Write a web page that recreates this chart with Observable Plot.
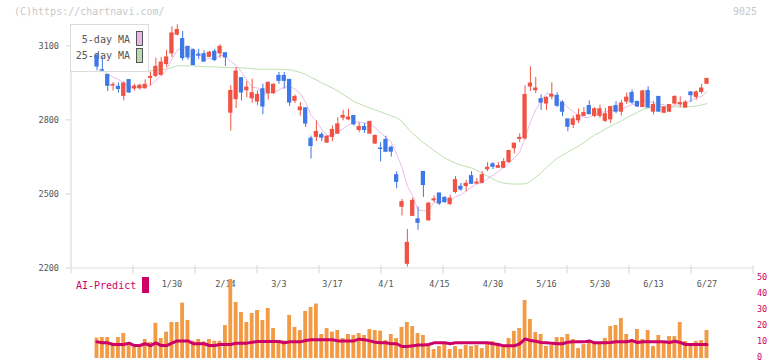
<!DOCTYPE html>
<html><head><meta charset="utf-8">
<script src="https://cdn.jsdelivr.net/npm/d3@7"></script>
<script src="https://cdn.jsdelivr.net/npm/@observablehq/plot@0.6"></script>
<style>
html,body{margin:0;padding:0;background:#fff;}
#wrap{position:relative;width:772px;height:361px;overflow:hidden;font-family:"DejaVu Sans Mono",monospace;}
#wrap > *{position:absolute;}
#wrap svg{left:0;top:0;}
.t10{font-size:10px;line-height:10px;white-space:nowrap;}
</style></head><body><div id="wrap"></div>
<script>
const dates = ["1/9","1/10","1/14","1/15","1/16","1/17","1/20","1/21","1/22","1/23","1/24","1/27","1/28","1/29","1/30","1/31",
"2/3","2/4","2/5","2/6","2/7","2/10","2/12","2/13","2/14","2/17","2/18","2/19","2/20","2/21","2/25","2/26","2/27","2/28",
"3/3","3/4","3/5","3/6","3/7","3/10","3/11","3/12","3/13","3/14","3/17","3/18","3/19","3/21","3/24","3/25","3/26","3/27","3/28","3/31",
"4/1","4/2","4/3","4/4","4/7","4/8","4/9","4/10","4/11","4/14","4/15","4/16","4/17","4/18","4/21","4/22","4/23","4/24","4/25","4/28","4/30",
"5/1","5/2","5/7","5/8","5/9","5/12","5/13","5/14","5/15","5/16","5/19","5/20","5/21","5/22","5/23","5/26","5/27","5/28","5/29","5/30",
"6/2","6/3","6/4","6/5","6/6","6/9","6/10","6/11","6/12","6/13","6/16","6/17","6/18","6/19","6/20","6/23","6/24","6/25","6/26","6/27"];
const open = [3059,3001,2982,2939,2934,2897,2961,2927,2928,2928,
2970,2978,2982,3026,3069,3145,3127,3096,3082,3064,
3066,3055,3076,3069,3070,2829,2884,2969,2920,2887,
2874,2924,2908,2908,2978,2978,2962,2877,2839,2847,
2724,2731,2739,2708,2731,2744,2809,2802,2816,2759,
2771,2744,2704,2684,2719,2687,2576,2448,2217,2411,
2397,2589,2393,2474,2502,2484,2459,2508,2529,2532,
2572,2542,2545,2600,2620,2606,2606,2629,2685,2723,
2725,2935,2920,2884,2866,2894,2897,2870,2802,2780,
2798,2816,2856,2816,2816,2796,2802,2856,2833,2874,
2909,2873,2852,2917,2833,2893,2829,2833,2866,2864,
2850,2911,2893,2913,2946];
const high = [3066,3055,2985,2951,2950,2954,2961,2944,2945,2962,
2994,3050,3053,3082,3177,3185,3158,3096,3086,3085,
3080,3078,3086,3104,3070,2938,3012,2969,2956,2965,
2917,2944,2954,2946,2992,2992,2962,2901,2870,2847,
2734,2796,2748,2735,2775,2809,2839,2843,2816,2788,
2785,2792,2739,2708,2734,2694,2590,2478,2356,2482,
2447,2589,2464,2492,2502,2489,2495,2570,2543,2555,
2590,2563,2590,2627,2627,2627,2643,2677,2704,2744,
2938,3015,2972,2901,2893,2950,2910,2877,2802,2815,
2845,2850,2877,2850,2860,2847,2852,2874,2879,2909,
2921,2875,2920,2934,2874,2893,2852,2862,2897,2893,
2877,2915,2917,2944,2966];
const low = [2999,2998,2915,2917,2908,2877,2907,2917,2920,2924,
2938,2971,2978,3012,3053,3140,3039,3042,3019,3045,
3033,3052,3036,3050,3016,2755,2846,2877,2889,2867,
2857,2821,2881,2903,2944,2924,2854,2866,2815,2769,
2642,2712,2712,2704,2712,2741,2796,2796,2775,2748,
2745,2744,2700,2630,2667,2649,2521,2411,2204,2411,
2353,2486,2390,2465,2454,2461,2453,2500,2511,2509,
2538,2538,2542,2590,2599,2603,2603,2624,2663,2708,
2718,2915,2906,2838,2838,2881,2850,2813,2752,2765,
2785,2813,2820,2809,2806,2789,2785,2825,2816,2863,
2863,2850,2850,2846,2820,2833,2825,2830,2860,2850,
2847,2870,2880,2904,2946];
const close = [3016,2999,2938,2941,2925,2947,2911,2935,2938,2942,
2974,3015,3032,3053,3150,3164,3050,3053,3022,3060,
3036,3072,3042,3096,3053,2917,2996,2911,2931,2908,
2901,2854,2950,2942,2958,2958,2870,2893,2850,2785,
2694,2751,2728,2732,2759,2782,2816,2809,2782,2771,
2759,2792,2735,2682,2671,2671,2549,2467,2302,2472,
2383,2536,2461,2478,2461,2467,2481,2556,2518,2541,
2541,2546,2576,2606,2610,2613,2629,2674,2704,2727,
2901,2947,2927,2870,2889,2901,2857,2833,2772,2802,
2818,2828,2823,2843,2843,2823,2852,2833,2866,2890,
2870,2854,2915,2850,2860,2833,2850,2860,2893,2868,
2870,2900,2911,2927,2966];
const ma25 = [3003,3003,3003,3003,3003,3003,3003,3003,3003,3002,
2999,3001,3003,3007,3011,3019,3019,3019,3019,3017,
3015,3015,3015,3013,3012,3012,3011,3011,3009,3007,
3005,3005,3005,3005,3005,3003,3003,2998,2992,2984,
2972,2962,2950,2940,2929,2917,2903,2889,2875,2865,
2856,2848,2840,2832,2824,2816,2808,2795,2767,2745,
2726,2708,2692,2676,2660,2645,2635,2625,2617,2611,
2605,2595,2584,2572,2560,2550,2544,2541,2540,2540,
2541,2550,2568,2586,2607,2626,2645,2657,2670,2682,
2694,2708,2724,2739,2749,2763,2775,2785,2796,2808,
2820,2830,2842,2848,2852,2854,2854,2852,2852,2852,
2852,2854,2856,2860,2866];
const volume = [12.7,13.1,13.1,9.6,13.1,15.6,10,7.1,7.9,11.9,
10,22,12.5,16.5,22.5,22.5,34.6,23.8,10.8,11.9,
10.4,11.9,10.8,10.8,20.6,49.4,35,28.7,22.5,28.1,
30,23.7,31.2,18.7,11,11,26.9,19.4,17.5,29.4,
31.9,34,15,18.7,16.5,17.5,12.5,15,14.4,15.6,
14.4,18.1,17.5,17.1,11.2,15,12.5,19.4,22.5,20,
15.6,14.4,8.1,5.6,7.5,9.4,5.6,7.5,5.6,8.1,
7.5,8.1,6.2,8.7,10.6,8.1,6.9,12.5,16.9,18.7,
36.2,24.4,16.2,15,7.5,8.1,13.1,13.1,15,11.9,
6.2,8.7,11.2,10.6,10,12.5,20,20.6,25,15,
10,18.1,11.9,17.5,7.5,14.4,10,13.7,13.7,22.5,
10.6,8.1,10.6,11.2,17.5];
const aiPredict = [10.4,9.8,9.8,8.75,8.75,8.75,9.6,8.1,8.1,9.2,
8.1,9.8,8.1,8.1,9.6,11,11,11,9.2,9.2,
9.2,8.1,8.1,8.75,8.75,8.75,9.6,9.6,9.6,10.2,
10.6,10.6,10.6,10.6,10.6,9.8,10.4,10.4,10.4,11.2,
11.7,11.7,11.7,11.7,11.7,11,11,11,11,12.1,
11.7,11,10.2,9.8,9.8,9.2,9.2,7.5,7.5,7.9,
8.5,8.5,8.75,9.8,9.8,9.8,9.2,9.8,9.8,9.8,
9.8,9.8,9.8,9.8,9.2,8.75,7.9,7.9,7.9,9.2,
12.3,11.2,10.8,10,9.8,9.6,9.2,9.2,10.2,10.4,
10.4,10.4,11,9.8,9.8,9.8,10,10.4,10.4,10.4,
11.2,10,10.4,10.4,10.4,10.4,10.4,10,10.8,10,
8.75,8.75,8.75,8.75,8.75];
const dateLabels = ["1/30","2/14","3/3","3/17","4/1","4/15","4/30","5/16","5/30","6/13","6/27"];
const priceTicks = [2200,2500,2800,3100];
const volumeTicks = [0,10,20,30,40,50];

const RED = "#f05344", BLUE = "#3e77e6", ORANGE = "#f29a44", MAG = "#cc0066";
const MA5C = "#ebbdeb", MA25C = "#bde0b0", GRID = "#dddddd", TXT = "#555555";

const rows = dates.map((d, i) => ({i, date: d, o: open[i], h: high[i], l: low[i], c: close[i],
  up: close[i] >= open[i], ma25: ma25[i], v: volume[i], ai: aiPredict[i]}));

const X0 = -4.86, X1 = 122.6;
const xScale = {domain: [X0, X1], range: [70.5, 752.5]};
const pxPerIdx = (752.5 - 70.5) / (X1 - X0);
const yPrice = {domain: [2200, 3100], range: [267.5, 45.3]};
const yenPerPx = 900 / (267.5 - 45.3);
const yVol = {domain: [0, 50], range: [358, 278]};
const xTicks = d3.range(12).map(k => X0 + k * 62 / pxPerIdx);
const FONT = '"DejaVu Sans Mono", monospace';

function make(y, marks) {
  const svg = Plot.plot({
    width: 772, height: 361, margin: 0,
    x: {...xScale, axis: null}, y: {...y, axis: null},
    color: {type: "identity"},
    style: {background: "transparent", fontFamily: FONT, fontSize: "8.5px", overflow: "visible"},
    marks
  });
  svg.style.position = "absolute"; svg.style.left = "0px"; svg.style.top = "0px";
  return svg;
}

const wrap = document.getElementById("wrap");

// base layer: axes, labels, moving averages
wrap.appendChild(make(yPrice, [
  Plot.ruleY([2200], {x1: () => X0, x2: () => X1, stroke: GRID, strokeWidth: 1.2}),
  Plot.ruleX([X0], {y1: () => 2200, y2: () => 3100 + 21 * yenPerPx, stroke: GRID, strokeWidth: 1.2}),
  Plot.ruleX(xTicks, {x: d => d, y1: () => 2200 + 2.5 * yenPerPx, y2: () => 2200 - 6 * yenPerPx, stroke: GRID, strokeWidth: 1.2}),
  Plot.ruleY(priceTicks, {y: d => d, x1: () => X0 - 5 / pxPerIdx, x2: () => X0, stroke: GRID, strokeWidth: 1.2}),
  Plot.text(priceTicks, {x: () => X0, y: d => d, text: d => String(d), dx: -12, textAnchor: "end", fill: TXT, fontSize: 8.5}),
  Plot.text(dateLabels, {x: d => dates.indexOf(d), y: () => 2200, dy: 16, text: d => d, fill: TXT, fontSize: 8.5}),
  Plot.line(rows, {x: "i", y: "ma25", stroke: MA25C, strokeWidth: 1}),
  Plot.line(rows, Plot.windowY({k: 5, anchor: "end"}, {x: "i", y: "c", stroke: MA5C, strokeWidth: 1}))
]));

// legend box
const legend = document.createElement("div");
legend.style.cssText = "left:70px;top:24px;width:79px;height:48px;box-sizing:border-box;border:1.5px solid #dcdcdc;background:#fff;";
wrap.appendChild(legend);
function addText(txt, css, cls) {
  const d = document.createElement("div");
  d.className = cls || "t10"; d.textContent = txt; d.style.cssText += css; wrap.appendChild(d); return d;
}
addText("5-day MA", "left:60px;top:35px;width:70px;text-align:right;color:#555;");
addText("25-day MA", "left:60px;top:51px;width:70px;text-align:right;color:#555;");
function sw(top, color) {
  const d = document.createElement("div");
  d.style.cssText = `left:136px;top:${top}px;width:7px;height:15px;box-sizing:border-box;border:1px solid #555;background:${color};`;
  wrap.appendChild(d);
}
sw(31, "#e8b6e8"); sw(48, "#b8dcae");

// candles layer
wrap.appendChild(make(yPrice, [
  Plot.ruleX(rows, {x: "i", y1: "l", y2: "h", stroke: d => d.up ? RED : BLUE, strokeWidth: 1}),
  Plot.rect(rows, {x1: d => d.i - 0.4, x2: d => d.i + 0.4, y1: "o", y2: "c",
    fill: d => d.up ? RED : BLUE, insetTop: -0.5, insetBottom: -0.5})
]));

// volume + AI-Predict layer
wrap.appendChild(make(yVol, [
  Plot.rect(rows, {x1: d => d.i - 0.36, x2: d => d.i + 0.36, y1: () => 0, y2: "v", fill: ORANGE}),
  Plot.line(rows, {x: "i", y: "ai", stroke: MAG, strokeWidth: 3, strokeLinejoin: "miter"}),
  Plot.text(volumeTicks, {x: () => X1, y: d => d, text: d => String(d), dx: 4, dy: -1.5, textAnchor: "start", fill: MAG, fontSize: 8.5})
]));

addText("AI-Predict", "left:76px;top:281px;color:#cc0066;");
const s = document.createElement("div");
s.style.cssText = "left:142px;top:277px;width:7px;height:16px;background:#cc0066;";
wrap.appendChild(s);
addText("(C)https://chartnavi.com/", "left:14px;top:7px;color:#c8c8c8;");
addText("9025", "left:733px;top:7px;color:#c8c8c8;");
</script></body></html>
